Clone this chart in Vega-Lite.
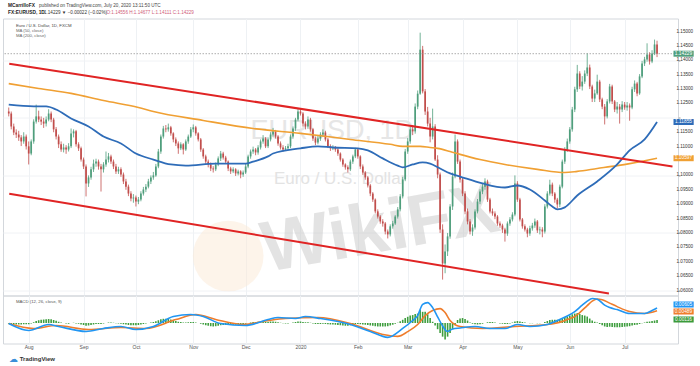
{
"$schema": "https://vega.github.io/schema/vega-lite/v6.json",
"padding": {"left": 2, "top": 1.5, "right": 0, "bottom": 0},
"background": "white",
"spacing": 0,
"bounds": "flush",
"config": {"font": "Liberation Sans", "view": {"stroke": "#d3d7dc"}},
"datasets": {
"candles": [
{"i":0,"o":1.1222,"h":1.1236,"l":1.1205,"c":1.1215,"g":-0.0003},
{"i":1,"o":1.1215,"h":1.1222,"l":1.1160,"c":1.1170,"g":-0.0004},
{"i":2,"o":1.1170,"h":1.1180,"l":1.1140,"c":1.1149,"g":-0.0005},
{"i":3,"o":1.1149,"h":1.1160,"l":1.1130,"c":1.1142,"g":-0.0006},
{"i":4,"o":1.1142,"h":1.1155,"l":1.1120,"c":1.1132,"g":-0.0006},
{"i":5,"o":1.1132,"h":1.1140,"l":1.1102,"c":1.1118,"g":-0.0006},
{"i":6,"o":1.1118,"h":1.1150,"l":1.1110,"c":1.1135,"g":-0.0005},
{"i":7,"o":1.1135,"h":1.1142,"l":1.1090,"c":1.1101,"g":-0.0005},
{"i":8,"o":1.1101,"h":1.1118,"l":1.1038,"c":1.1076,"g":-0.0005},
{"i":9,"o":1.1076,"h":1.1125,"l":1.1070,"c":1.1118,"g":-0.0002},
{"i":10,"o":1.1118,"h":1.1195,"l":1.1110,"c":1.1187,"g":0.0003},
{"i":11,"o":1.1187,"h":1.1246,"l":1.1180,"c":1.1205,"g":0.0008},
{"i":12,"o":1.1205,"h":1.1225,"l":1.1185,"c":1.1194,"g":0.0011},
{"i":13,"o":1.1194,"h":1.1205,"l":1.1175,"c":1.1187,"g":0.0013},
{"i":14,"o":1.1187,"h":1.1200,"l":1.1165,"c":1.1180,"g":0.0014},
{"i":15,"o":1.1180,"h":1.1205,"l":1.1170,"c":1.1194,"g":0.0015},
{"i":16,"o":1.1194,"h":1.1230,"l":1.1188,"c":1.1215,"g":0.0016},
{"i":17,"o":1.1215,"h":1.1222,"l":1.1185,"c":1.1194,"g":0.0015},
{"i":18,"o":1.1194,"h":1.1200,"l":1.1150,"c":1.1160,"g":0.0012},
{"i":19,"o":1.1160,"h":1.1168,"l":1.1125,"c":1.1135,"g":0.0009},
{"i":20,"o":1.1135,"h":1.1142,"l":1.1095,"c":1.1108,"g":0.0005},
{"i":21,"o":1.1108,"h":1.1118,"l":1.1082,"c":1.1090,"g":0.0002},
{"i":22,"o":1.1090,"h":1.1110,"l":1.1080,"c":1.1097,"g":0.0000},
{"i":23,"o":1.1097,"h":1.1105,"l":1.1075,"c":1.1090,"g":-0.0002},
{"i":24,"o":1.1090,"h":1.1112,"l":1.1083,"c":1.1101,"g":-0.0003},
{"i":25,"o":1.1101,"h":1.1163,"l":1.1095,"c":1.1146,"g":0.0000},
{"i":26,"o":1.1146,"h":1.1160,"l":1.1132,"c":1.1153,"g":0.0001},
{"i":27,"o":1.1153,"h":1.1158,"l":1.1100,"c":1.1108,"g":-0.0002},
{"i":28,"o":1.1108,"h":1.1115,"l":1.1085,"c":1.1094,"g":-0.0003},
{"i":29,"o":1.1094,"h":1.1100,"l":1.1048,"c":1.1055,"g":-0.0006},
{"i":30,"o":1.1055,"h":1.1062,"l":1.1022,"c":1.1031,"g":-0.0008},
{"i":31,"o":1.1031,"h":1.1038,"l":1.0927,"c":1.0972,"g":-0.0011},
{"i":32,"o":1.0972,"h":1.1000,"l":1.0960,"c":1.0993,"g":-0.0010},
{"i":33,"o":1.0993,"h":1.1030,"l":1.0985,"c":1.1021,"g":-0.0008},
{"i":34,"o":1.1021,"h":1.1055,"l":1.1012,"c":1.1041,"g":-0.0006},
{"i":35,"o":1.1041,"h":1.1058,"l":1.1030,"c":1.1048,"g":-0.0004},
{"i":36,"o":1.1048,"h":1.1055,"l":1.1020,"c":1.1031,"g":-0.0004},
{"i":37,"o":1.1031,"h":1.1040,"l":1.0944,"c":1.1021,"g":-0.0004},
{"i":38,"o":1.1021,"h":1.1046,"l":1.1010,"c":1.1038,"g":-0.0002},
{"i":39,"o":1.1038,"h":1.1083,"l":1.1030,"c":1.1055,"g":0.0000},
{"i":40,"o":1.1055,"h":1.1078,"l":1.1045,"c":1.1066,"g":0.0002},
{"i":41,"o":1.1066,"h":1.1072,"l":1.1040,"c":1.1048,"g":0.0002},
{"i":42,"o":1.1048,"h":1.1055,"l":1.1022,"c":1.1031,"g":0.0001},
{"i":43,"o":1.1031,"h":1.1040,"l":1.1005,"c":1.1014,"g":-0.0001},
{"i":44,"o":1.1014,"h":1.1030,"l":1.1005,"c":1.1021,"g":-0.0002},
{"i":45,"o":1.1021,"h":1.1028,"l":1.0995,"c":1.1003,"g":-0.0003},
{"i":46,"o":1.1003,"h":1.1010,"l":1.0970,"c":1.0979,"g":-0.0005},
{"i":47,"o":1.0979,"h":1.0988,"l":1.0950,"c":1.0961,"g":-0.0006},
{"i":48,"o":1.0961,"h":1.0968,"l":1.0928,"c":1.0937,"g":-0.0008},
{"i":49,"o":1.0937,"h":1.0945,"l":1.0910,"c":1.0920,"g":-0.0009},
{"i":50,"o":1.0920,"h":1.0935,"l":1.0905,"c":1.0923,"g":-0.0009},
{"i":51,"o":1.0923,"h":1.0930,"l":1.0892,"c":1.0909,"g":-0.0009},
{"i":52,"o":1.0909,"h":1.0925,"l":1.0900,"c":1.0916,"g":-0.0008},
{"i":53,"o":1.0916,"h":1.0945,"l":1.0910,"c":1.0937,"g":-0.0006},
{"i":54,"o":1.0937,"h":1.0960,"l":1.0930,"c":1.0951,"g":-0.0004},
{"i":55,"o":1.0951,"h":1.0970,"l":1.0942,"c":1.0961,"g":-0.0002},
{"i":56,"o":1.0961,"h":1.0988,"l":1.0955,"c":1.0979,"g":0.0000},
{"i":57,"o":1.0979,"h":1.1000,"l":1.0970,"c":1.0993,"g":0.0002},
{"i":58,"o":1.0993,"h":1.1012,"l":1.0985,"c":1.1000,"g":0.0004},
{"i":59,"o":1.1000,"h":1.1040,"l":1.0995,"c":1.1031,"g":0.0007},
{"i":60,"o":1.1031,"h":1.1092,"l":1.1025,"c":1.1083,"g":0.0011},
{"i":61,"o":1.1083,"h":1.1142,"l":1.1075,"c":1.1135,"g":0.0015},
{"i":62,"o":1.1135,"h":1.1172,"l":1.1128,"c":1.1163,"g":0.0017},
{"i":63,"o":1.1163,"h":1.1175,"l":1.1150,"c":1.1160,"g":0.0017},
{"i":64,"o":1.1160,"h":1.1180,"l":1.1152,"c":1.1167,"g":0.0016},
{"i":65,"o":1.1167,"h":1.1172,"l":1.1138,"c":1.1146,"g":0.0014},
{"i":66,"o":1.1146,"h":1.1150,"l":1.1115,"c":1.1125,"g":0.0011},
{"i":67,"o":1.1125,"h":1.1132,"l":1.1102,"c":1.1111,"g":0.0008},
{"i":68,"o":1.1111,"h":1.1118,"l":1.1075,"c":1.1094,"g":0.0005},
{"i":69,"o":1.1094,"h":1.1115,"l":1.1088,"c":1.1108,"g":0.0004},
{"i":70,"o":1.1108,"h":1.1112,"l":1.1073,"c":1.1090,"g":0.0002},
{"i":71,"o":1.1090,"h":1.1125,"l":1.1085,"c":1.1118,"g":0.0002},
{"i":72,"o":1.1118,"h":1.1142,"l":1.1110,"c":1.1135,"g":0.0003},
{"i":73,"o":1.1135,"h":1.1168,"l":1.1130,"c":1.1160,"g":0.0004},
{"i":74,"o":1.1160,"h":1.1177,"l":1.1150,"c":1.1167,"g":0.0004},
{"i":75,"o":1.1167,"h":1.1172,"l":1.1138,"c":1.1146,"g":0.0002},
{"i":76,"o":1.1146,"h":1.1150,"l":1.1118,"c":1.1125,"g":0.0000},
{"i":77,"o":1.1125,"h":1.1130,"l":1.1082,"c":1.1090,"g":-0.0003},
{"i":78,"o":1.1090,"h":1.1095,"l":1.1058,"c":1.1066,"g":-0.0006},
{"i":79,"o":1.1066,"h":1.1072,"l":1.1040,"c":1.1048,"g":-0.0009},
{"i":80,"o":1.1048,"h":1.1055,"l":1.1028,"c":1.1038,"g":-0.0011},
{"i":81,"o":1.1038,"h":1.1045,"l":1.1015,"c":1.1024,"g":-0.0013},
{"i":82,"o":1.1024,"h":1.1032,"l":1.1010,"c":1.1021,"g":-0.0014},
{"i":83,"o":1.1021,"h":1.1045,"l":1.1015,"c":1.1038,"g":-0.0013},
{"i":84,"o":1.1038,"h":1.1066,"l":1.1032,"c":1.1059,"g":-0.0011},
{"i":85,"o":1.1059,"h":1.1085,"l":1.1050,"c":1.1076,"g":-0.0009},
{"i":86,"o":1.1076,"h":1.1082,"l":1.1055,"c":1.1062,"g":-0.0008},
{"i":87,"o":1.1062,"h":1.1068,"l":1.1040,"c":1.1048,"g":-0.0008},
{"i":88,"o":1.1048,"h":1.1052,"l":1.1015,"c":1.1024,"g":-0.0008},
{"i":89,"o":1.1024,"h":1.1030,"l":1.1005,"c":1.1014,"g":-0.0008},
{"i":90,"o":1.1014,"h":1.1028,"l":1.1008,"c":1.1021,"g":-0.0007},
{"i":91,"o":1.1021,"h":1.1025,"l":1.0998,"c":1.1007,"g":-0.0007},
{"i":92,"o":1.1007,"h":1.1020,"l":1.1000,"c":1.1014,"g":-0.0006},
{"i":93,"o":1.1014,"h":1.1018,"l":1.0990,"c":1.1003,"g":-0.0006},
{"i":94,"o":1.1003,"h":1.1017,"l":1.0995,"c":1.1010,"g":-0.0005},
{"i":95,"o":1.1010,"h":1.1040,"l":1.1005,"c":1.1031,"g":-0.0003},
{"i":96,"o":1.1031,"h":1.1072,"l":1.1025,"c":1.1066,"g":0.0000},
{"i":97,"o":1.1066,"h":1.1090,"l":1.1058,"c":1.1083,"g":0.0002},
{"i":98,"o":1.1083,"h":1.1100,"l":1.1075,"c":1.1090,"g":0.0004},
{"i":99,"o":1.1090,"h":1.1095,"l":1.1070,"c":1.1080,"g":0.0004},
{"i":100,"o":1.1080,"h":1.1105,"l":1.1072,"c":1.1097,"g":0.0005},
{"i":101,"o":1.1097,"h":1.1125,"l":1.1090,"c":1.1118,"g":0.0006},
{"i":102,"o":1.1118,"h":1.1140,"l":1.1110,"c":1.1128,"g":0.0007},
{"i":103,"o":1.1128,"h":1.1133,"l":1.1095,"c":1.1101,"g":0.0005},
{"i":104,"o":1.1101,"h":1.1132,"l":1.1095,"c":1.1125,"g":0.0005},
{"i":105,"o":1.1125,"h":1.1150,"l":1.1118,"c":1.1142,"g":0.0006},
{"i":106,"o":1.1142,"h":1.1165,"l":1.1135,"c":1.1153,"g":0.0006},
{"i":107,"o":1.1153,"h":1.1158,"l":1.1128,"c":1.1135,"g":0.0005},
{"i":108,"o":1.1135,"h":1.1140,"l":1.1103,"c":1.1111,"g":0.0003},
{"i":109,"o":1.1111,"h":1.1118,"l":1.1090,"c":1.1097,"g":0.0001},
{"i":110,"o":1.1097,"h":1.1105,"l":1.1083,"c":1.1090,"g":-0.0001},
{"i":111,"o":1.1090,"h":1.1102,"l":1.1085,"c":1.1094,"g":-0.0002},
{"i":112,"o":1.1094,"h":1.1110,"l":1.1088,"c":1.1101,"g":-0.0002},
{"i":113,"o":1.1101,"h":1.1142,"l":1.1095,"c":1.1135,"g":0.0000},
{"i":114,"o":1.1135,"h":1.1170,"l":1.1128,"c":1.1163,"g":0.0002},
{"i":115,"o":1.1163,"h":1.1200,"l":1.1155,"c":1.1194,"g":0.0004},
{"i":116,"o":1.1194,"h":1.1232,"l":1.1188,"c":1.1222,"g":0.0006},
{"i":117,"o":1.1222,"h":1.1230,"l":1.1208,"c":1.1215,"g":0.0006},
{"i":118,"o":1.1215,"h":1.1220,"l":1.1170,"c":1.1180,"g":0.0004},
{"i":119,"o":1.1180,"h":1.1188,"l":1.1160,"c":1.1170,"g":0.0003},
{"i":120,"o":1.1170,"h":1.1205,"l":1.1162,"c":1.1194,"g":0.0003},
{"i":121,"o":1.1194,"h":1.1200,"l":1.1152,"c":1.1160,"g":0.0001},
{"i":122,"o":1.1160,"h":1.1165,"l":1.1120,"c":1.1128,"g":-0.0002},
{"i":123,"o":1.1128,"h":1.1135,"l":1.1105,"c":1.1114,"g":-0.0004},
{"i":124,"o":1.1114,"h":1.1138,"l":1.1108,"c":1.1128,"g":-0.0004},
{"i":125,"o":1.1128,"h":1.1150,"l":1.1120,"c":1.1142,"g":-0.0004},
{"i":126,"o":1.1142,"h":1.1160,"l":1.1135,"c":1.1149,"g":-0.0003},
{"i":127,"o":1.1149,"h":1.1155,"l":1.1118,"c":1.1125,"g":-0.0004},
{"i":128,"o":1.1125,"h":1.1130,"l":1.1095,"c":1.1101,"g":-0.0005},
{"i":129,"o":1.1101,"h":1.1108,"l":1.1085,"c":1.1094,"g":-0.0006},
{"i":130,"o":1.1094,"h":1.1105,"l":1.1088,"c":1.1097,"g":-0.0006},
{"i":131,"o":1.1097,"h":1.1102,"l":1.1082,"c":1.1090,"g":-0.0007},
{"i":132,"o":1.1090,"h":1.1095,"l":1.1068,"c":1.1076,"g":-0.0008},
{"i":133,"o":1.1076,"h":1.1080,"l":1.1048,"c":1.1055,"g":-0.0009},
{"i":134,"o":1.1055,"h":1.1060,"l":1.1030,"c":1.1038,"g":-0.0010},
{"i":135,"o":1.1038,"h":1.1042,"l":1.1020,"c":1.1028,"g":-0.0011},
{"i":136,"o":1.1028,"h":1.1035,"l":1.1010,"c":1.1021,"g":-0.0011},
{"i":137,"o":1.1021,"h":1.1055,"l":1.1015,"c":1.1048,"g":-0.0009},
{"i":138,"o":1.1048,"h":1.1072,"l":1.1040,"c":1.1066,"g":-0.0007},
{"i":139,"o":1.1066,"h":1.1096,"l":1.1060,"c":1.1090,"g":-0.0004},
{"i":140,"o":1.1090,"h":1.1095,"l":1.1058,"c":1.1066,"g":-0.0004},
{"i":141,"o":1.1066,"h":1.1070,"l":1.1022,"c":1.1031,"g":-0.0005},
{"i":142,"o":1.1031,"h":1.1038,"l":1.1002,"c":1.1010,"g":-0.0006},
{"i":143,"o":1.1010,"h":1.1015,"l":1.0985,"c":1.0993,"g":-0.0007},
{"i":144,"o":1.0993,"h":1.0998,"l":1.0958,"c":1.0965,"g":-0.0008},
{"i":145,"o":1.0965,"h":1.0970,"l":1.0928,"c":1.0937,"g":-0.0010},
{"i":146,"o":1.0937,"h":1.0942,"l":1.0908,"c":1.0916,"g":-0.0011},
{"i":147,"o":1.0916,"h":1.0920,"l":1.0868,"c":1.0875,"g":-0.0013},
{"i":148,"o":1.0875,"h":1.0882,"l":1.0850,"c":1.0857,"g":-0.0014},
{"i":149,"o":1.0857,"h":1.0862,"l":1.0832,"c":1.0840,"g":-0.0014},
{"i":150,"o":1.0840,"h":1.0848,"l":1.0822,"c":1.0833,"g":-0.0014},
{"i":151,"o":1.0833,"h":1.0838,"l":1.0795,"c":1.0805,"g":-0.0014},
{"i":152,"o":1.0805,"h":1.0812,"l":1.0781,"c":1.0795,"g":-0.0013},
{"i":153,"o":1.0795,"h":1.0830,"l":1.0788,"c":1.0823,"g":-0.0010},
{"i":154,"o":1.0823,"h":1.0842,"l":1.0815,"c":1.0833,"g":-0.0007},
{"i":155,"o":1.0833,"h":1.0862,"l":1.0828,"c":1.0857,"g":-0.0003},
{"i":156,"o":1.0857,"h":1.0890,"l":1.0850,"c":1.0882,"g":0.0001},
{"i":157,"o":1.0882,"h":1.0935,"l":1.0875,"c":1.0927,"g":0.0007},
{"i":158,"o":1.0927,"h":1.0995,"l":1.0920,"c":1.0986,"g":0.0013},
{"i":159,"o":1.0986,"h":1.1092,"l":1.0980,"c":1.1083,"g":0.0020},
{"i":160,"o":1.1083,"h":1.1130,"l":1.1075,"c":1.1118,"g":0.0025},
{"i":161,"o":1.1118,"h":1.1170,"l":1.1110,"c":1.1160,"g":0.0030},
{"i":162,"o":1.1160,"h":1.1175,"l":1.1140,"c":1.1153,"g":0.0032},
{"i":163,"o":1.1153,"h":1.1250,"l":1.1145,"c":1.1239,"g":0.0036},
{"i":164,"o":1.1239,"h":1.1295,"l":1.1230,"c":1.1284,"g":0.0038},
{"i":165,"o":1.1284,"h":1.1496,"l":1.1280,"c":1.1437,"g":0.0052},
{"i":166,"o":1.1437,"h":1.1450,"l":1.1285,"c":1.1292,"g":0.0045},
{"i":167,"o":1.1292,"h":1.1300,"l":1.1210,"c":1.1222,"g":0.0045},
{"i":168,"o":1.1222,"h":1.1238,"l":1.1170,"c":1.1180,"g":0.0035},
{"i":169,"o":1.1180,"h":1.1200,"l":1.1115,"c":1.1135,"g":0.0020},
{"i":170,"o":1.1135,"h":1.1232,"l":1.1125,"c":1.1170,"g":0.0005},
{"i":171,"o":1.1170,"h":1.1178,"l":1.1050,"c":1.1055,"g":-0.0010},
{"i":172,"o":1.1055,"h":1.1070,"l":1.0990,"c":1.1003,"g":-0.0025},
{"i":173,"o":1.1003,"h":1.1010,"l":1.0800,"c":1.0812,"g":-0.0040},
{"i":174,"o":1.0812,"h":1.0830,"l":1.0638,"c":1.0694,"g":-0.0055},
{"i":175,"o":1.0694,"h":1.0760,"l":1.0660,"c":1.0736,"g":-0.0066},
{"i":176,"o":1.0736,"h":1.0800,"l":1.0720,"c":1.0788,"g":-0.0055},
{"i":177,"o":1.0788,"h":1.0900,"l":1.0780,"c":1.0892,"g":-0.0040},
{"i":178,"o":1.0892,"h":1.1010,"l":1.0880,"c":1.0996,"g":-0.0025},
{"i":179,"o":1.0996,"h":1.1142,"l":1.0990,"c":1.1118,"g":-0.0008},
{"i":180,"o":1.1118,"h":1.1125,"l":1.1040,"c":1.1048,"g":0.0012},
{"i":181,"o":1.1048,"h":1.1055,"l":1.0975,"c":1.0986,"g":0.0018},
{"i":182,"o":1.0986,"h":1.0992,"l":1.0928,"c":1.0937,"g":0.0020},
{"i":183,"o":1.0937,"h":1.0945,"l":1.0865,"c":1.0875,"g":0.0016},
{"i":184,"o":1.0875,"h":1.0885,"l":1.0830,"c":1.0840,"g":0.0010},
{"i":185,"o":1.0840,"h":1.0848,"l":1.0795,"c":1.0805,"g":0.0002},
{"i":186,"o":1.0805,"h":1.0830,"l":1.0790,"c":1.0819,"g":-0.0003},
{"i":187,"o":1.0819,"h":1.0882,"l":1.0812,"c":1.0875,"g":-0.0005},
{"i":188,"o":1.0875,"h":1.0918,"l":1.0868,"c":1.0909,"g":-0.0006},
{"i":189,"o":1.0909,"h":1.0952,"l":1.0900,"c":1.0944,"g":-0.0005},
{"i":190,"o":1.0944,"h":1.0970,"l":1.0935,"c":1.0961,"g":-0.0003},
{"i":191,"o":1.0961,"h":1.0990,"l":1.0950,"c":1.0979,"g":0.0000},
{"i":192,"o":1.0979,"h":1.0985,"l":1.0908,"c":1.0916,"g":0.0003},
{"i":193,"o":1.0916,"h":1.0922,"l":1.0868,"c":1.0875,"g":0.0004},
{"i":194,"o":1.0875,"h":1.0885,"l":1.0860,"c":1.0868,"g":0.0004},
{"i":195,"o":1.0868,"h":1.0875,"l":1.0848,"c":1.0857,"g":0.0002},
{"i":196,"o":1.0857,"h":1.0862,"l":1.0825,"c":1.0833,"g":0.0000},
{"i":197,"o":1.0833,"h":1.0840,"l":1.0818,"c":1.0826,"g":-0.0002},
{"i":198,"o":1.0826,"h":1.0832,"l":1.0800,"c":1.0812,"g":-0.0003},
{"i":199,"o":1.0812,"h":1.0818,"l":1.0770,"c":1.0798,"g":-0.0004},
{"i":200,"o":1.0798,"h":1.0840,"l":1.0790,"c":1.0833,"g":-0.0004},
{"i":201,"o":1.0833,"h":1.0855,"l":1.0825,"c":1.0847,"g":-0.0002},
{"i":202,"o":1.0847,"h":1.0872,"l":1.0840,"c":1.0864,"g":0.0002},
{"i":203,"o":1.0864,"h":1.1000,"l":1.0858,"c":1.0972,"g":0.0006},
{"i":204,"o":1.0972,"h":1.0980,"l":1.0908,"c":1.0916,"g":0.0008},
{"i":205,"o":1.0916,"h":1.0922,"l":1.0840,"c":1.0847,"g":0.0006},
{"i":206,"o":1.0847,"h":1.0852,"l":1.0815,"c":1.0823,"g":0.0004},
{"i":207,"o":1.0823,"h":1.0830,"l":1.0805,"c":1.0812,"g":0.0002},
{"i":208,"o":1.0812,"h":1.0818,"l":1.0785,"c":1.0798,"g":0.0000},
{"i":209,"o":1.0798,"h":1.0825,"l":1.0790,"c":1.0816,"g":-0.0001},
{"i":210,"o":1.0816,"h":1.0835,"l":1.0808,"c":1.0826,"g":-0.0001},
{"i":211,"o":1.0826,"h":1.0850,"l":1.0818,"c":1.0840,"g":0.0000},
{"i":212,"o":1.0840,"h":1.0845,"l":1.0800,"c":1.0809,"g":-0.0001},
{"i":213,"o":1.0809,"h":1.0822,"l":1.0795,"c":1.0812,"g":-0.0001},
{"i":214,"o":1.0812,"h":1.0820,"l":1.0785,"c":1.0805,"g":0.0000},
{"i":215,"o":1.0805,"h":1.0900,"l":1.0798,"c":1.0892,"g":0.0004},
{"i":216,"o":1.0892,"h":1.0945,"l":1.0885,"c":1.0937,"g":0.0008},
{"i":217,"o":1.0937,"h":1.0985,"l":1.0930,"c":1.0968,"g":0.0012},
{"i":218,"o":1.0968,"h":1.0975,"l":1.0928,"c":1.0937,"g":0.0013},
{"i":219,"o":1.0937,"h":1.0942,"l":1.0905,"c":1.0916,"g":0.0013},
{"i":220,"o":1.0916,"h":1.0922,"l":1.0885,"c":1.0899,"g":0.0013},
{"i":221,"o":1.0899,"h":1.0968,"l":1.0890,"c":1.0961,"g":0.0016},
{"i":222,"o":1.0961,"h":1.1055,"l":1.0955,"c":1.1048,"g":0.0020},
{"i":223,"o":1.1048,"h":1.1098,"l":1.1040,"c":1.1090,"g":0.0024},
{"i":224,"o":1.1090,"h":1.1128,"l":1.1082,"c":1.1118,"g":0.0026},
{"i":225,"o":1.1118,"h":1.1168,"l":1.1110,"c":1.1160,"g":0.0030},
{"i":226,"o":1.1160,"h":1.1238,"l":1.1152,"c":1.1229,"g":0.0035},
{"i":227,"o":1.1229,"h":1.1308,"l":1.1220,"c":1.1299,"g":0.0038},
{"i":228,"o":1.1299,"h":1.1384,"l":1.1290,"c":1.1354,"g":0.0040},
{"i":229,"o":1.1354,"h":1.1362,"l":1.1300,"c":1.1309,"g":0.0036},
{"i":230,"o":1.1309,"h":1.1345,"l":1.1295,"c":1.1326,"g":0.0032},
{"i":231,"o":1.1326,"h":1.1365,"l":1.1318,"c":1.1354,"g":0.0030},
{"i":232,"o":1.1354,"h":1.1424,"l":1.1345,"c":1.1375,"g":0.0026},
{"i":233,"o":1.1375,"h":1.1385,"l":1.1300,"c":1.1309,"g":0.0018},
{"i":234,"o":1.1309,"h":1.1315,"l":1.1255,"c":1.1267,"g":0.0010},
{"i":235,"o":1.1267,"h":1.1298,"l":1.1255,"c":1.1285,"g":0.0005},
{"i":236,"o":1.1285,"h":1.1350,"l":1.1280,"c":1.1326,"g":0.0002},
{"i":237,"o":1.1326,"h":1.1332,"l":1.1255,"c":1.1264,"g":-0.0004},
{"i":238,"o":1.1264,"h":1.1270,"l":1.1230,"c":1.1239,"g":-0.0009},
{"i":239,"o":1.1239,"h":1.1248,"l":1.1177,"c":1.1205,"g":-0.0014},
{"i":240,"o":1.1205,"h":1.1265,"l":1.1198,"c":1.1257,"g":-0.0016},
{"i":241,"o":1.1257,"h":1.1318,"l":1.1250,"c":1.1309,"g":-0.0015},
{"i":242,"o":1.1309,"h":1.1315,"l":1.1248,"c":1.1257,"g":-0.0016},
{"i":243,"o":1.1257,"h":1.1262,"l":1.1220,"c":1.1229,"g":-0.0017},
{"i":244,"o":1.1229,"h":1.1255,"l":1.1215,"c":1.1239,"g":-0.0017},
{"i":245,"o":1.1239,"h":1.1248,"l":1.1180,"c":1.1229,"g":-0.0017},
{"i":246,"o":1.1229,"h":1.1258,"l":1.1220,"c":1.1246,"g":-0.0016},
{"i":247,"o":1.1246,"h":1.1255,"l":1.1228,"c":1.1236,"g":-0.0015},
{"i":248,"o":1.1236,"h":1.1255,"l":1.1225,"c":1.1243,"g":-0.0014},
{"i":249,"o":1.1243,"h":1.1250,"l":1.1190,"c":1.1236,"g":-0.0013},
{"i":250,"o":1.1236,"h":1.1308,"l":1.1230,"c":1.1299,"g":-0.0010},
{"i":251,"o":1.1299,"h":1.1330,"l":1.1290,"c":1.1319,"g":-0.0008},
{"i":252,"o":1.1319,"h":1.1325,"l":1.1275,"c":1.1285,"g":-0.0007},
{"i":253,"o":1.1285,"h":1.1352,"l":1.1280,"c":1.1344,"g":-0.0004},
{"i":254,"o":1.1344,"h":1.1398,"l":1.1338,"c":1.1389,"g":-0.0001},
{"i":255,"o":1.1389,"h":1.1412,"l":1.1380,"c":1.1403,"g":0.0002},
{"i":256,"o":1.1403,"h":1.1459,"l":1.1395,"c":1.1420,"g":0.0005},
{"i":257,"o":1.1420,"h":1.1428,"l":1.1385,"c":1.1396,"g":0.0006},
{"i":258,"o":1.1396,"h":1.1435,"l":1.1390,"c":1.1424,"g":0.0008},
{"i":259,"o":1.1424,"h":1.1472,"l":1.1418,"c":1.1455,"g":0.0010},
{"i":260,"o":1.1455,"h":1.1468,"l":1.1411,"c":1.1423,"g":0.00116}
],
"ma50": [
{"i":0,"v":1.1246},{"i":10,"v":1.1240},{"i":15,"v":1.1240},{"i":19,"v":1.1229},{"i":25,"v":1.1198},{"i":32,"v":1.1170},{"i":38,"v":1.1135},{"i":45,"v":1.1111},{"i":51,"v":1.1076},{"i":58,"v":1.1055},{"i":65,"v":1.1038},{"i":71,"v":1.1034},{"i":83,"v":1.1041},{"i":95,"v":1.1041},{"i":98,"v":1.1048},{"i":104,"v":1.1066},{"i":106,"v":1.1076},{"i":117,"v":1.1094},{"i":124,"v":1.1101},{"i":130,"v":1.1097},{"i":140,"v":1.1094},{"i":144,"v":1.1087},{"i":150,"v":1.1059},{"i":156,"v":1.1034},{"i":158,"v":1.1028},{"i":162,"v":1.1038},{"i":166,"v":1.1045},{"i":169,"v":1.1041},{"i":173,"v":1.1024},{"i":177,"v":1.1007},{"i":181,"v":1.0996},{"i":190,"v":1.0972},{"i":199,"v":1.0958},{"i":204,"v":1.0965},{"i":209,"v":1.0951},{"i":215,"v":1.0913},{"i":218,"v":1.0892},{"i":220,"v":1.0882},{"i":223,"v":1.0889},{"i":228,"v":1.0930},{"i":236,"v":1.0979},{"i":244,"v":1.1038},{"i":249,"v":1.1087},{"i":255,"v":1.1125},{"i":260,"v":1.11855}
],
"ma200": [
{"i":0,"v":1.1319},{"i":12,"v":1.1302},{"i":25,"v":1.1285},{"i":38,"v":1.1260},{"i":52,"v":1.1236},{"i":58,"v":1.1222},{"i":78,"v":1.1191},{"i":98,"v":1.1163},{"i":117,"v":1.1146},{"i":137,"v":1.1125},{"i":153,"v":1.1108},{"i":158,"v":1.1101},{"i":165,"v":1.1101},{"i":169,"v":1.1097},{"i":172,"v":1.1094},{"i":177,"v":1.1083},{"i":181,"v":1.1073},{"i":189,"v":1.1055},{"i":199,"v":1.1038},{"i":212,"v":1.1021},{"i":223,"v":1.1010},{"i":228,"v":1.1014},{"i":236,"v":1.1024},{"i":244,"v":1.1034},{"i":249,"v":1.1041},{"i":260,"v":1.10597}
],
"channel": [
{"k":"upper","i":0.2,"v":1.13881},{"k":"upper","i":266.2,"v":1.10312},
{"k":"lower","i":0.2,"v":1.09364},{"k":"lower","i":240.7,"v":1.05896}
],
"macd": [
{"i":0,"m":-0.0002},{"i":8,"m":-0.0030},{"i":16,"m":-0.0006},{"i":20,"m":-0.0014},{"i":31,"m":-0.0034},{"i":38,"m":-0.0022},{"i":45,"m":-0.0014},{"i":51,"m":-0.0026},{"i":58,"m":-0.0014},{"i":66,"m":0.0026},{"i":73,"m":0.0034},{"i":78,"m":0.0026},{"i":85,"m":-0.0002},{"i":95,"m":-0.0010},{"i":104,"m":0.0014},{"i":108,"m":0.0022},{"i":115,"m":0.0018},{"i":119,"m":0.0026},{"i":125,"m":0.0018},{"i":137,"m":-0.0006},{"i":145,"m":-0.0034},{"i":152,"m":-0.0058},{"i":158,"m":-0.0022},{"i":162,"m":0.0010},{"i":164,"m":0.0030},{"i":166,"m":0.0075},{"i":168,"m":0.0082},{"i":170,"m":0.0062},{"i":172,"m":0.0025},{"i":174,"m":-0.0012},{"i":176,"m":-0.0034},{"i":178,"m":-0.0024},{"i":181,"m":-0.0020},{"i":187,"m":-0.0014},{"i":193,"m":-0.0022},{"i":199,"m":-0.0022},{"i":204,"m":-0.0006},{"i":209,"m":-0.0014},{"i":216,"m":-0.0006},{"i":221,"m":0.0014},{"i":224,"m":0.0028},{"i":227,"m":0.0046},{"i":230,"m":0.0072},{"i":232,"m":0.0088},{"i":234,"m":0.0099},{"i":236,"m":0.0096},{"i":239,"m":0.0072},{"i":241,"m":0.0062},{"i":244,"m":0.0054},{"i":249,"m":0.0038},{"i":255,"m":0.0038},{"i":258,"m":0.0050},{"i":260,"m":0.00605}
],
"signal": [
{"i":0,"s":-0.0002},{"i":10,"s":-0.0022},{"i":19,"s":-0.0010},{"i":32,"s":-0.0026},{"i":45,"s":-0.0018},{"i":55,"s":-0.0022},{"i":67,"s":0.0014},{"i":75,"s":0.0034},{"i":83,"s":0.0014},{"i":94,"s":-0.0006},{"i":104,"s":0.0010},{"i":111,"s":0.0018},{"i":124,"s":0.0022},{"i":137,"s":-0.0002},{"i":150,"s":-0.0046},{"i":156,"s":-0.0054},{"i":160,"s":-0.0035},{"i":164,"s":-0.0006},{"i":167,"s":0.0030},{"i":170,"s":0.0050},{"i":173,"s":0.0058},{"i":175,"s":0.0042},{"i":177,"s":0.0010},{"i":181,"s":-0.0014},{"i":190,"s":-0.0022},{"i":203,"s":-0.0014},{"i":216,"s":-0.0006},{"i":222,"s":0.0006},{"i":225,"s":0.0018},{"i":227,"s":0.0026},{"i":229,"s":0.0042},{"i":232,"s":0.0070},{"i":234,"s":0.0088},{"i":236,"s":0.0097},{"i":238,"s":0.0094},{"i":241,"s":0.0080},{"i":244,"s":0.0066},{"i":249,"s":0.0046},{"i":255,"s":0.0038},{"i":260,"s":0.00489}
],
"yticks": [
{"v":1.06,"t":"1.06000"},{"v":1.065,"t":"1.06500"},{"v":1.07,"t":"1.07000"},{"v":1.075,"t":"1.07500"},{"v":1.08,"t":"1.08000"},{"v":1.085,"t":"1.08500"},{"v":1.09,"t":"1.09000"},{"v":1.095,"t":"1.09500"},{"v":1.10,"t":"1.10000"},{"v":1.11,"t":"1.11000"},{"v":1.115,"t":"1.11500"},{"v":1.125,"t":"1.12500"},{"v":1.13,"t":"1.13000"},{"v":1.135,"t":"1.13500"},{"v":1.14,"t":"1.14000"},{"v":1.145,"t":"1.14500"},{"v":1.15,"t":"1.15000"}
],
"priceTags": [
{"v":1.14229,"lo":1.14125,"hi":1.14333,"t":"1.14229","col":"#4f9e7c"},
{"v":1.11855,"lo":1.11751,"hi":1.11959,"t":"1.11855","col":"#2e6cb8"},
{"v":1.10597,"lo":1.10493,"hi":1.10701,"t":"1.10597","col":"#f0a033"}
],
"macdTags": [
{"v":0.00745,"lo":0.00624,"hi":0.00866,"t":"0.00605","col":"#2196f3"},
{"v":0.00463,"lo":0.00342,"hi":0.00584,"t":"0.00489","col":"#ef7d2c"},
{"v":0.00141,"lo":0.00020,"hi":0.00262,"t":"0.00116","col":"#3a9a3a"}
]
},
"vconcat": [
{
"width": 675,
"height": 277,
"layer": [
{
"data": {"values": [{}]},
"mark": {"type": "text", "text": "EURUSD, 1D", "fontSize": 27, "color": "#e6e6e6", "align": "center", "baseline": "middle"},
"encoding": {
"x": {"datum": 129.7, "type": "quantitative", "scale": {"domain": [-0.3, 266.4], "nice": false, "zero": false},
"axis": {"title": null, "labels": false, "ticks": false, "domain": false, "grid": true, "gridColor": "#eef1f4", "values": [8, 30, 51, 74, 95, 117, 140, 160, 182, 204, 225, 247]}},
"y": {"datum": 1.11526, "type": "quantitative", "scale": {"domain": [1.05827, 1.15452], "nice": false, "zero": false},
"axis": {"title": null, "orient": "right", "values": [1.06, 1.065, 1.07, 1.075, 1.08, 1.085, 1.09, 1.095, 1.1, 1.105, 1.11, 1.115, 1.12, 1.125, 1.13, 1.135, 1.14, 1.145, 1.15], "labels": false, "tickSize": 2, "tickColor": "#999", "domain": false, "grid": true, "gridColor": "#f0f2f5"}}
}
},
{
"data": {"values": [{}]},
"mark": {"type": "text", "text": "Euro / U.S. Dollar", "fontSize": 17, "color": "#e3e3e3", "align": "center", "baseline": "middle"},
"encoding": {"x": {"datum": 132.9, "type": "quantitative"}, "y": {"datum": 1.09892, "type": "quantitative"}}
},
{
"data": {"values": [{}]},
"mark": {"type": "point", "shape": "circle", "size": 5000, "filled": true, "color": "#fbead6", "opacity": 0.5},
"encoding": {"x": {"datum": 88, "type": "quantitative"}, "y": {"datum": 1.0720, "type": "quantitative"}}
},
{
"data": {"values": [{}]},
"mark": {"type": "text", "text": "WikiFX", "fontSize": 72, "fontWeight": "bold", "color": "#c8c8c8", "opacity": 0.5, "align": "center", "baseline": "middle", "angle": -10},
"encoding": {"x": {"datum": 149, "type": "quantitative"}, "y": {"datum": 1.0812, "type": "quantitative"}}
},
{
"data": {"name": "candles"},
"mark": {"type": "rule", "strokeWidth": 0.8},
"encoding": {
"x": {"field": "i", "type": "quantitative"},
"y": {"field": "l", "type": "quantitative"},
"y2": {"field": "h"},
"color": {"condition": {"test": "datum.c >= datum.o", "value": "#4f9e7c"}, "value": "#c14e4c"}
}
},
{
"data": {"name": "candles"},
"mark": {"type": "bar", "size": 1.7},
"encoding": {
"x": {"field": "i", "type": "quantitative"},
"y": {"field": "o", "type": "quantitative"},
"y2": {"field": "c"},
"color": {"condition": {"test": "datum.c >= datum.o", "value": "#4f9e7c"}, "value": "#c14e4c"}
}
},
{
"data": {"name": "ma200"},
"mark": {"type": "line", "color": "#f0a033", "strokeWidth": 1.6, "interpolate": "monotone"},
"encoding": {"x": {"field": "i", "type": "quantitative"}, "y": {"field": "v", "type": "quantitative"}}
},
{
"data": {"name": "ma50"},
"mark": {"type": "line", "color": "#2e6cb8", "strokeWidth": 1.8, "interpolate": "monotone"},
"encoding": {"x": {"field": "i", "type": "quantitative"}, "y": {"field": "v", "type": "quantitative"}}
},
{
"data": {"name": "channel"},
"mark": {"type": "line", "color": "#e02424", "strokeWidth": 2},
"encoding": {"x": {"field": "i", "type": "quantitative"}, "y": {"field": "v", "type": "quantitative"}, "detail": {"field": "k"}}
},
{
"data": {"values": [{}]},
"mark": {"type": "rule", "color": "#8a8a8a", "strokeWidth": 0.7, "strokeDash": [1.5, 1.5]},
"encoding": {"y": {"datum": 1.14229, "type": "quantitative"}}
},
{
"data": {"values": [{"t": "Euro / U.S. Dollar, 1D, FXCM", "v": 1.15192, "col": "#444"}, {"t": "MA (50, close)", "v": 1.15008, "col": "#666"}, {"t": "MA (200, close)", "v": 1.14827, "col": "#666"}]},
"mark": {"type": "text", "fontSize": 4.3, "align": "left", "baseline": "middle"},
"encoding": {"x": {"datum": 2.86, "type": "quantitative"}, "y": {"field": "v", "type": "quantitative"}, "text": {"field": "t"}, "color": {"field": "col", "type": "nominal", "scale": null}}
},
{
"data": {"name": "yticks"},
"mark": {"type": "text", "fontSize": 4.6, "color": "#333", "align": "left", "baseline": "middle"},
"encoding": {"x": {"datum": 267.8, "type": "quantitative"}, "y": {"field": "v", "type": "quantitative"}, "text": {"field": "t"}}
},
{
"data": {"name": "priceTags"},
"mark": {"type": "rect"},
"encoding": {"x": {"datum": 266.6, "type": "quantitative"}, "x2": {"datum": 274.7}, "y": {"field": "lo", "type": "quantitative"}, "y2": {"field": "hi"}, "color": {"field": "col", "type": "nominal", "scale": null}}
},
{
"data": {"name": "priceTags"},
"mark": {"type": "text", "fontSize": 4.8, "color": "white", "align": "center", "baseline": "middle"},
"encoding": {"x": {"datum": 270.6, "type": "quantitative"}, "y": {"field": "v", "type": "quantitative"}, "text": {"field": "t"}}
},
{
"data": {"values": [{}]},
"mark": {"type": "text", "text": "MCarrilloFX", "fontSize": 4.8, "fontWeight": "bold", "color": "#222", "align": "left", "baseline": "middle"},
"encoding": {"x": {"datum": -0.3, "type": "quantitative"}, "y": {"datum": 1.15887, "type": "quantitative"}}
},
{
"data": {"values": [{}]},
"mark": {"type": "text", "text": "published on TradingView.com, July 20, 2020 13:11:50 UTC", "fontSize": 4.6, "color": "#444", "align": "left", "baseline": "middle"},
"encoding": {"x": {"datum": 12.15, "type": "quantitative"}, "y": {"datum": 1.15887, "type": "quantitative"}}
},
{
"data": {"values": [{}]},
"mark": {"type": "text", "text": "FX:EURUSD, 1D", "fontSize": 4.8, "fontWeight": "bold", "color": "#222", "align": "left", "baseline": "middle"},
"encoding": {"x": {"datum": -0.3, "type": "quantitative"}, "y": {"datum": 1.15643, "type": "quantitative"}}
},
{
"data": {"values": [{}]},
"mark": {"type": "text", "text": "1.14229 ▼ −0.00022 (−0.02%)", "fontSize": 4.6, "color": "#333", "align": "left", "baseline": "middle"},
"encoding": {"x": {"datum": 14.12, "type": "quantitative"}, "y": {"datum": 1.15643, "type": "quantitative"}}
},
{
"data": {"values": [{}]},
"mark": {"type": "text", "text": "O:1.14556 H:1.14677 L:1.14111 C:1.14229", "fontSize": 4.6, "color": "#d0607a", "align": "left", "baseline": "middle"},
"encoding": {"x": {"datum": 39.2, "type": "quantitative"}, "y": {"datum": 1.15643, "type": "quantitative"}}
}
]
},
{
"width": 675,
"height": 48,
"layer": [
{
"data": {"name": "candles"},
"mark": {"type": "bar", "size": 1.6, "color": "#3f9e3f"},
"encoding": {
"x": {"field": "i", "type": "quantitative", "scale": {"domain": [-0.3, 266.4], "nice": false, "zero": false},
"axis": {"title": null, "orient": "bottom", "values": [8, 30, 51, 74, 95, 117, 140, 160, 182, 204, 225, 247], "labelExpr": "['Aug','Sep','Oct','Nov','Dec','2020','Feb','Mar','Apr','May','Jun','Jul'][indexof([8,30,51,74,95,117,140,160,182,204,225,247], datum.value)]", "labelFontSize": 5, "labelColor": "#555", "labelPadding": 1, "ticks": false, "domain": false, "grid": true, "gridColor": "#eef1f4"}},
"y": {"field": "g", "type": "quantitative", "scale": {"domain": [-0.00826, 0.01108], "nice": false, "zero": false}, "axis": {"title": null, "orient": "right", "labels": false, "ticks": false, "domain": false, "grid": false}},
"y2": {"datum": 0}
}
},
{
"data": {"name": "signal"},
"mark": {"type": "line", "color": "#ef7d2c", "strokeWidth": 1.6, "interpolate": "monotone"},
"encoding": {"x": {"field": "i", "type": "quantitative"}, "y": {"field": "s", "type": "quantitative"}}
},
{
"data": {"name": "macd"},
"mark": {"type": "line", "color": "#2196f3", "strokeWidth": 1.6, "interpolate": "monotone"},
"encoding": {"x": {"field": "i", "type": "quantitative"}, "y": {"field": "m", "type": "quantitative"}}
},
{
"data": {"values": [{}]},
"mark": {"type": "text", "text": "MACD (12, 26, close, 9)", "fontSize": 4.3, "color": "#555", "align": "left", "baseline": "middle"},
"encoding": {"x": {"datum": 2.86, "type": "quantitative"}, "y": {"datum": 0.00866, "type": "quantitative"}}
},
{
"data": {"name": "macdTags"},
"mark": {"type": "rect"},
"encoding": {"x": {"datum": 266.6, "type": "quantitative"}, "x2": {"datum": 274.7}, "y": {"field": "lo", "type": "quantitative"}, "y2": {"field": "hi"}, "color": {"field": "col", "type": "nominal", "scale": null}}
},
{
"data": {"name": "macdTags"},
"mark": {"type": "text", "fontSize": 4.8, "color": "white", "align": "center", "baseline": "middle"},
"encoding": {"x": {"datum": 270.6, "type": "quantitative"}, "y": {"field": "v", "type": "quantitative"}, "text": {"field": "t"}}
},
{
"data": {"values": [{}]},
"mark": {"type": "text", "text": "☁", "fontSize": 9, "font": "DejaVu Sans", "color": "#3b8fd9", "align": "center", "baseline": "middle"},
"encoding": {"x": {"datum": 1.9, "type": "quantitative"}, "y": {"datum": -0.0145, "type": "quantitative"}}
},
{
"data": {"values": [{}]},
"mark": {"type": "text", "text": "TradingView", "fontSize": 6, "fontWeight": "bold", "color": "#333", "align": "left", "baseline": "middle"},
"encoding": {"x": {"datum": 4.4, "type": "quantitative"}, "y": {"datum": -0.0147, "type": "quantitative"}}
}
]
}
]
}
